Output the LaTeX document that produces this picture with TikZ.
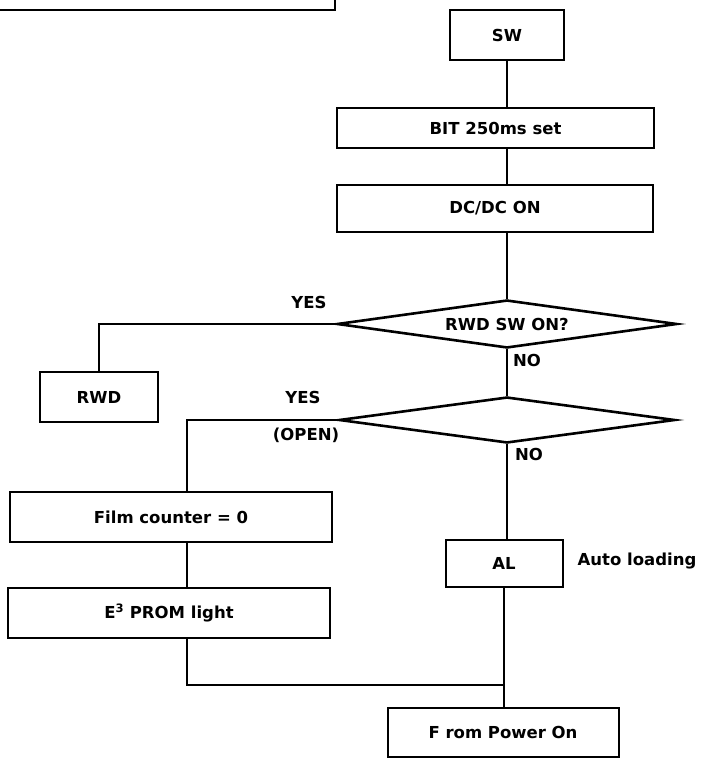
\documentclass[tikz,border=0pt]{standalone}
\usepackage{fontspec}
\setmainfont{DejaVu Sans}
\usetikzlibrary{shapes.geometric}
\begin{document}
\begin{tikzpicture}[x=1pt,y=-1pt,
  txt/.style={font=\fontsize{16.5}{19}\selectfont\bfseries},
  box/.style={draw, line width=2pt, inner sep=0pt, txt},
  dec/.style={draw, diamond, line width=2.6pt, inner sep=0pt, shape aspect=8, txt},
  conn/.style={line width=1.8pt}]
\useasboundingbox (0,0) rectangle (706,760);
% partial box at the top
\coordinate (pa) at (0,10);
\coordinate (pb) at (335,10);
\coordinate (pc) at (335,-2);
\draw[line width=2.2pt] (pa) -- (pb) -- (pc);

\node[box, minimum width=114pt, minimum height=50pt] (sw) at (507,35) {SW};
\node[box, minimum width=317pt, minimum height=40pt] (bit) at (495.5,128) {BIT 250ms set};
\node[box, minimum width=316pt, minimum height=47pt] (dc) at (495,208.5) {DC/DC ON};
\node[dec, minimum width=340pt, minimum height=48pt] (d1) at (507,324) {RWD SW ON?};
\node[box, minimum width=118pt, minimum height=50pt] (rwd) at (99,397) {RWD};
\node[dec, minimum width=336pt, minimum height=46pt] (d2) at (507,420) {};
\node[box, minimum width=322pt, minimum height=50pt] (film) at (171,517) {Film counter = 0};
\node[box, minimum width=322pt, minimum height=50pt] (e2) at (169,613) {E\textsuperscript{3} PROM light};
\node[box, minimum width=117pt, minimum height=47pt] (al) at (504,563.5) {AL};
\node[box, minimum width=231pt, minimum height=49pt] (fpo) at (503,732.5) {F rom Power On};

\node[txt] (yes1) at (309,302) {YES};
\node[txt] (no1) at (527,360) {NO};
\node[txt] (yes2) at (303,397) {YES};
\node[txt] (open) at (306,435) {(OPEN)};
\node[txt] (no2) at (529,454) {NO};
\node[txt] (auto) at (637,561) {Auto loading};

\coordinate (lx) at (187,0);
\coordinate (m) at (504,685);

\draw[conn] (sw.south) -- (sw.south |- bit.north);
\draw[conn] (sw.south |- bit.south) -- (sw.south |- dc.north);
\draw[conn] (sw.south |- dc.south) -- (d1.north);
\draw[conn] (d1.west) -| (rwd.north);
\draw[conn] (d1.south) -- (d2.north);
\draw[conn] (d2.west) -| (lx |- film.north);
\draw[conn] (lx |- film.south) -- (lx |- e2.north);
\draw[conn] (lx |- e2.south) |- (m);
\draw[conn] (d2.south) -- (d2.south |- al.north);
\draw[conn] (al.south) -- (al.south |- fpo.north);
\end{tikzpicture}
\end{document}
